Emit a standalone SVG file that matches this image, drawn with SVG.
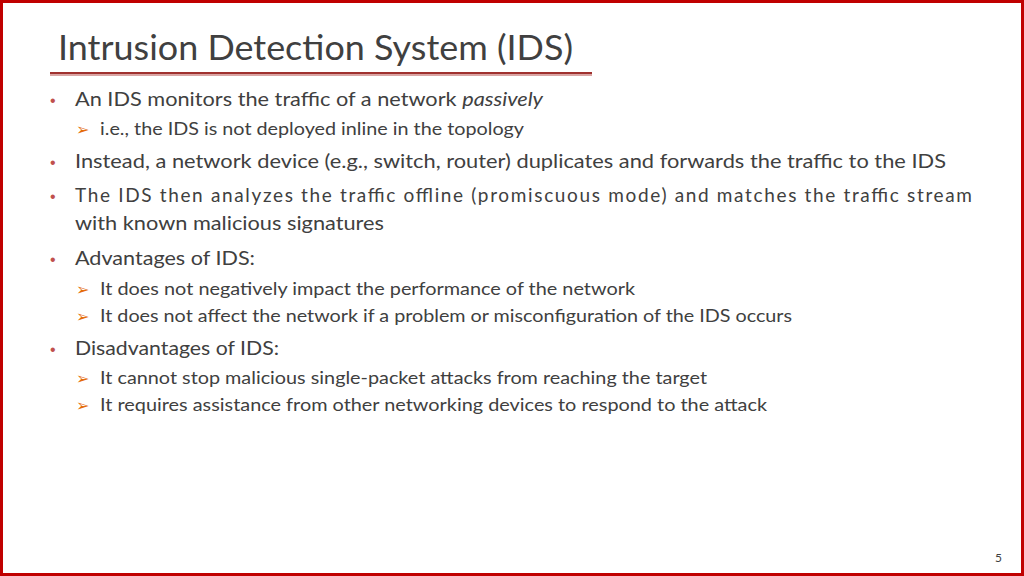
<svg xmlns="http://www.w3.org/2000/svg" width="1024" height="576" viewBox="0 0 1024 576">
<style>
.t{font-family:Lato,"Open Sans",sans-serif;fill:#404040}
.b{font-size:19px}
.s{font-size:17px}
.d{fill:#c0504d;font-size:16px;font-family:"Liberation Sans",sans-serif}
.a{fill:#e46c0a;font-size:16px;font-family:"DejaVu Sans",sans-serif}
</style>
<rect x="0" y="0" width="1024" height="576" fill="#fff"/>
<rect x="1.5" y="1.5" width="1021" height="573" fill="none" stroke="#c00000" stroke-width="3"/>
<text class="t" x="58" y="60" font-size="35" textLength="515" lengthAdjust="spacingAndGlyphs">Intrusion Detection System (IDS)</text>
<line x1="50" y1="75" x2="592" y2="75" stroke="#d9a5a4" stroke-width="2"/>
<line x1="50" y1="73" x2="592" y2="73" stroke="#a0312f" stroke-width="2"/>
<g>
<text class="d" x="50" y="106">•</text>
<text class="t b" x="75" y="106" textLength="468" lengthAdjust="spacingAndGlyphs">An IDS monitors the traffic of a network <tspan font-style="italic">passively</tspan></text>
<text class="a" x="76" y="135">➢</text>
<text class="t s" x="100" y="135" textLength="424" lengthAdjust="spacingAndGlyphs">i.e., the IDS is not deployed inline in the topology</text>
<text class="d" x="50" y="168">•</text>
<text class="t b" x="75" y="168" textLength="871" lengthAdjust="spacingAndGlyphs">Instead, a network device (e.g., switch, router) duplicates and forwards the traffic to the IDS</text>
<text class="d" x="50" y="202">•</text>
<text class="t b" x="75" y="202" textLength="897" lengthAdjust="spacing">The IDS then analyzes the traffic offline (promiscuous mode) and matches the traffic stream</text>
<text class="t b" x="75" y="230" textLength="309" lengthAdjust="spacingAndGlyphs">with known malicious signatures</text>
<text class="d" x="50" y="265">•</text>
<text class="t b" x="75" y="265" textLength="180" lengthAdjust="spacingAndGlyphs">Advantages of IDS:</text>
<text class="a" x="76" y="295">➢</text>
<text class="t s" x="100" y="295" textLength="535" lengthAdjust="spacingAndGlyphs">It does not negatively impact the performance of the network</text>
<text class="a" x="76" y="322">➢</text>
<text class="t s" x="100" y="322" textLength="692" lengthAdjust="spacingAndGlyphs">It does not affect the network if a problem or misconfiguration of the IDS occurs</text>
<text class="d" x="50" y="355">•</text>
<text class="t b" x="75" y="355" textLength="204" lengthAdjust="spacingAndGlyphs">Disadvantages of IDS:</text>
<text class="a" x="76" y="384">➢</text>
<text class="t s" x="100" y="384" textLength="607" lengthAdjust="spacingAndGlyphs">It cannot stop malicious single-packet attacks from reaching the target</text>
<text class="a" x="76" y="411">➢</text>
<text class="t s" x="100" y="411" textLength="667" lengthAdjust="spacingAndGlyphs">It requires assistance from other networking devices to respond to the attack</text>
</g>
<text class="t" x="1002" y="562" font-size="12" text-anchor="end">5</text>
</svg>
